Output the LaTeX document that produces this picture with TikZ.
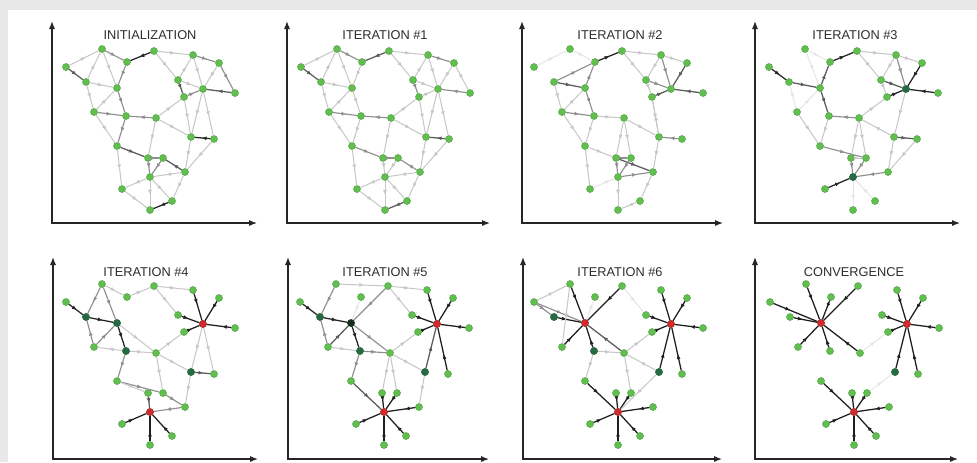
\documentclass[tikz,border=0pt]{standalone}
\usepackage{fontspec}
\newfontfamily\tf{Liberation Sans}
\usetikzlibrary{arrows.meta,decorations.markings}
\definecolor{gfill}{RGB}{98,190,78}
\definecolor{gdraw}{RGB}{72,160,60}
\definecolor{dkg}{RGB}{38,105,68}
\definecolor{vdk}{RGB}{25,45,30}
\definecolor{rfill}{RGB}{215,40,45}
\definecolor{bgg}{RGB}{232,232,232}
\tikzset{
  ar/.style={postaction={decorate},decoration={markings,mark=at position #1 with {\arrow{Latex[length=3.6pt,width=3pt]}}}},
  ar/.default=0.55,
  eF/.style={color=black!10,line width=0.7pt,ar},
  eL/.style={color=black!22,line width=0.75pt,ar},
  eM/.style={color=black!44,line width=0.85pt,ar},
  eD/.style={color=black!64,line width=0.95pt,ar},
  eK/.style={color=black!86,line width=0.95pt,ar},
  sK/.style={color=black!88,line width=0.95pt,ar=0.38},
  gn/.style={circle,fill=gfill,draw=gdraw,line width=0.3pt,inner sep=0pt,minimum size=5.3pt},
  dg/.style={gn,fill=dkg,draw=dkg},
  vk/.style={gn,fill=vdk,draw=vdk},
  rn/.style={gn,fill=rfill,draw=rfill!80!black},
  axis/.style={line width=0.9pt,black!85,{Latex[length=6pt,width=4.6pt]}-{Latex[length=6pt,width=4.6pt]}},
  ttl/.style={font=\tf\fontsize{9.6}{11}\selectfont,text=black!82,inner sep=0pt}
}
\newcommand\nodelist{1/102/49, 2/154/51, 3/127/62, 4/66/67, 5/86/82, 6/117/88, 7/193/55, 8/219/63, 9/178/80, 10/203/89, 11/184/97, 12/235/93, 13/94/112, 14/126/116, 15/156/118, 16/191/137, 17/214/139, 18/117/146, 19/148/158, 20/163/158, 21/185/172, 22/150/177, 23/122/189, 24/172/201, 25/150/210}
\newcommand\mypanel[4]{%
  \begin{scope}[shift={(#2,#3)}]
    \foreach \i/\x/\y in \nodelist {\node[gn] (#1-n\i) at (\x,\y) {};}
    \foreach \s/\a/\b in {#4} {\draw[\s] (#1-n\a) -- (#1-n\b);}
  \end{scope}}
\begin{document}
\begin{tikzpicture}[x=0.75pt,y=-0.75pt]
\useasboundingbox (0,0) rectangle (977,462);
\fill[bgg] (0,0) rectangle (977,462);
\fill[white] (8,10) rectangle (977,462);

% axes
\draw[axis] (52,21) -- (52,223) -- (257,223);
\draw[axis] (287,21) -- (287,223) -- (490,223);
\draw[axis] (522,21) -- (522,223) -- (723,223);
\draw[axis] (755,21) -- (755,223) -- (960,223);
\draw[axis] (53,257) -- (53,459) -- (258,459);
\draw[axis] (288,257) -- (288,459) -- (489,459);
\draw[axis] (523,257) -- (523,459) -- (722,459);
\draw[axis] (755,257) -- (755,459) -- (958,459);

% titles
\node[ttl] (t1) at (150,35) {INITIALIZATION};
\node[ttl] (t2) at (385,35) {ITERATION \#1};
\node[ttl] (t3) at (620,35) {ITERATION \#2};
\node[ttl] (t4) at (855,35) {ITERATION \#3};
\node[ttl] (t5) at (146,272) {ITERATION \#4};
\node[ttl] (t6) at (385,272) {ITERATION \#5};
\node[ttl] (t7) at (620,272) {ITERATION \#6};
\node[ttl] (t8) at (854,272) {CONVERGENCE};

% INITIALIZATION
\mypanel{A}{0}{0}{eL/4/1, eL/5/1, eM/1/3, eK/2/3, eD/4/5, eL/5/6, eL/1/6, eM/3/6, eL/5/13, eL/13/6, eM/6/14, eM/13/14, eM/15/14, eL/13/18, eM/14/18, eL/2/7, eL/2/9, eL/9/7, eM/7/8, eL/7/10, eL/8/10, eM/8/12, eL/9/10, eD/9/11, eM/11/10, eD/12/10, eL/15/11, eL/11/16, eL/10/16, eL/10/17, eK/17/16, eL/15/16, eL/15/19, eD/18/19, eM/19/20, eD/21/20, eM/19/22, eM/20/22, eL/16/21, eL/17/21, eL/21/22, eL/21/24, eL/22/24, eL/22/25, eL/22/23, eL/23/25, eL/18/23, eK/24/25}

% ITERATION 1
\mypanel{B}{235}{0}{eL/4/1, eL/5/1, eM/1/3, eD/2/3, eD/4/5, eL/5/6, eL/1/6, eL/3/6, eL/5/13, eL/13/6, eL/6/14, eM/13/14, eM/15/14, eL/13/18, eL/14/18, eL/2/7, eL/2/9, eL/9/7, eM/7/8, eL/7/10, eL/8/10, eL/8/12, eL/9/10, eM/9/11, eL/11/10, eM/12/10, eL/15/11, eL/11/16, eL/10/16, eL/10/17, eD/17/16, eL/15/16, eL/15/19, eM/18/19, eM/19/20, eM/21/20, eL/19/22, eL/20/22, eL/16/21, eL/17/21, eL/21/22, eL/21/24, eL/22/24, eL/22/25, eL/22/23, eL/23/25, eL/18/23, eD/24/25}

% ITERATION 2
\mypanel{C}{468}{0}{eF/4/1, eF/1/3, eK/3/2, eM/5/3, eD/5/6, eM/6/3, eL/5/13, eM/13/14, eM/6/14, eL/13/6, eL/14/15, eL/13/18, eL/14/18, eL/2/7, eL/2/9, eL/7/9, eL/7/8, eM/7/10, eD/8/10, eM/9/10, eD/11/10, eD/12/10, eL/9/11, eL/11/16, eL/16/11, eM/17/16, eL/15/16, eL/15/19, eL/15/20, eL/18/19, eM/19/20, eD/19/21, eM/22/21, eM/19/22, eM/20/22, eL/21/24, eL/16/21, eL/24/25, eL/22/25, eF/22/23, eL/18/23}

% ITERATION 3
\mypanel{D}{703}{0}{eK/4/5, eD/5/6, eD/6/3, eK/3/2, eD/6/14, eM/15/14, eF/1/6, eF/1/3, eF/13/6, eF/5/13, eL/2/7, eL/2/9, eM/7/10, eK/8/10, eD/9/10, eK/11/10, eK/12/10, eL/7/9, eL/9/11, eL/7/8, eL/10/16, eL/16/15, eL/15/11, eD/16/17, eL/17/21, eK/23/22, eM/19/22, eM/20/22, eM/21/22, eM/18/20, eL/19/20, eL/15/19, eL/15/20, eL/16/21, eF/25/22, eF/24/22, eL/14/18, eL/13/18}
\node[dg] (D-d10) at (D-n10) {};
\node[dg] (D-d22) at (D-n22) {};

% ITERATION 4
\mypanel{E}{0}{235}{eK/4/5, eK/5/6, eK/6/14, eM/1/5, eM/13/5, eM/13/6, eL/14/13, eL/3/2, eM/1/6, eL/1/3, eL/14/15, eL/6/15, eL/2/9, eM/14/18, eL/2/7, sK/7/10, sK/8/10, sK/9/10, sK/11/10, sK/12/10, eL/10/16, eL/10/17, eD/16/17, eL/15/16, eL/15/11, sK/23/22, sK/25/22, sK/24/22, eD/19/22, eM/21/22, eM/20/21, eM/18/20, eL/15/20, eL/18/19, eL/16/21}
\node[dg] (E-d5) at (E-n5) {};
\node[dg] (E-d6) at (E-n6) {};
\node[dg] (E-d14) at (E-n14) {};
\node[dg] (E-d16) at (E-n16) {};
\node[rn] (E-r10) at (E-n10) {};
\node[rn] (E-r22) at (E-n22) {};

% ITERATION 5
\mypanel{F}{234}{235}{eK/4/5, eK/5/6, eK/6/14, eM/1/5, eM/13/5, eD/13/6, eM/2/6, eF/3/6, eL/1/2, eM/6/15, eM/14/15, eM/14/18, eL/13/14, eL/2/9, eL/2/7, sK/7/10, sK/8/10, sK/9/10, sK/11/10, sK/12/10, eD/16/10, sK/17/10, eL/15/16, eL/15/11, eL/16/21, sK/19/22, sK/20/22, sK/21/22, sK/23/22, sK/24/22, sK/25/22, eD/18/22, eL/15/20, eL/15/19}
\node[dg] (F-d5) at (F-n5) {};
\node[vk] (F-d6) at (F-n6) {};
\node[dg] (F-d14) at (F-n14) {};
\node[dg] (F-d16) at (F-n16) {};
\node[rn] (F-r10) at (F-n10) {};
\node[rn] (F-r22) at (F-n22) {};

% ITERATION 6
\mypanel{G}{468}{235}{eM/4/6, eM/4/5, eL/4/1, sK/5/6, sK/1/6, sK/2/6, sK/13/6, sK/14/6, eD/15/6, eL/1/13, eF/3/6, eL/14/15, eL/14/18, sK/7/10, sK/8/10, sK/9/10, sK/11/10, sK/12/10, sK/16/10, sK/17/10, eL/15/11, eL/16/15, eF/2/9, sK/18/22, sK/19/22, sK/20/22, sK/21/22, sK/23/22, sK/24/22, sK/25/22, eL/16/22, eL/15/20}
\node[dg] (G-d5) at (G-n5) {};
\node[dg] (G-d14) at (G-n14) {};
\node[dg] (G-d16) at (G-n16) {};
\node[rn] (G-r6) at (G-n6) {};
\node[rn] (G-r10) at (G-n10) {};
\node[rn] (G-r22) at (G-n22) {};

% CONVERGENCE
\mypanel{H}{704}{235}{sK/1/6, sK/2/6, sK/3/6, sK/4/6, sK/5/6, sK/13/6, sK/14/6, sK/15/6, sK/7/10, sK/8/10, sK/9/10, sK/11/10, sK/12/10, sK/16/10, sK/17/10, sK/18/22, sK/19/22, sK/20/22, sK/21/22, sK/23/22, sK/24/22, sK/25/22, eF/15/11, eF/20/16}
\node[dg] (H-d16) at (H-n16) {};
\node[rn] (H-r6) at (H-n6) {};
\node[rn] (H-r10) at (H-n10) {};
\node[rn] (H-r22) at (H-n22) {};
\end{tikzpicture}
\end{document}
